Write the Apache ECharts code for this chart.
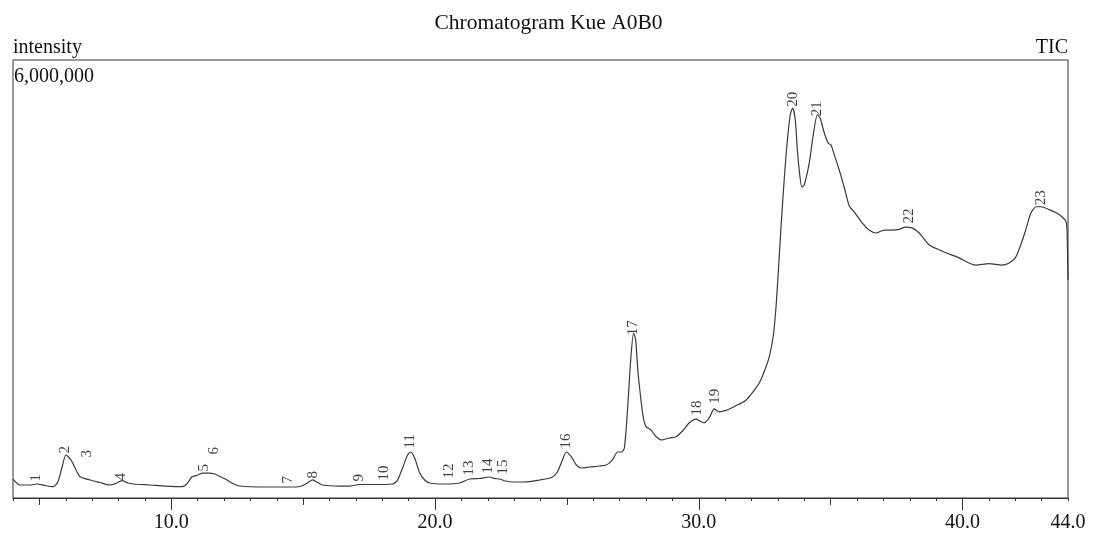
<!DOCTYPE html>
<html>
<head>
    <meta charset="utf-8"/>
    <title>Chromatogram Kue A0B0</title>
    <script src="https://cdn.jsdelivr.net/npm/echarts@6/dist/echarts.min.js"></script>
    <style>
        html, body { margin: 0; padding: 0; background: #fff; }
        #chart { width: 1097px; height: 540px; }
    </style>
</head>
<body>
<div id="chart"></div>
<script>
// retention time (min) and TIC intensity
var retTime = [4.00, 4.27, 4.64, 4.91, 5.21, 5.52, 5.70, 5.86, 6.01, 6.20, 6.39, 6.54, 6.92, 7.30, 7.67, 7.90, 8.13, 8.36, 8.55, 9.19,
    9.76, 10.40, 10.59, 10.78, 11.01, 11.20, 11.42, 11.65, 11.88, 12.11, 12.33, 12.60, 13.62, 14.49, 14.87, 15.10, 15.36, 15.55, 15.74, 16.39,
    16.77, 17.14, 17.71, 18.39, 18.58, 18.77, 18.96, 19.08, 19.23, 19.42, 19.61, 19.80, 20.36, 20.93, 21.31, 21.69, 22.07, 22.26, 22.45, 22.67,
    22.94, 23.39, 23.96, 24.42, 24.64, 24.83, 24.98, 25.17, 25.36, 25.55, 25.86, 26.23, 26.50, 26.73, 26.92, 27.07, 27.18, 27.30, 27.42, 27.53,
    27.61, 27.69, 27.81, 27.90, 28.00, 28.19, 28.36, 28.57, 28.89, 29.14, 29.42, 29.64, 29.90, 30.06, 30.21, 30.40, 30.59, 30.78, 31.03, 31.39,
    31.79, 32.11, 32.30, 32.48, 32.67, 32.83, 32.93, 33.02, 33.12, 33.24, 33.36, 33.47, 33.56, 33.66, 33.73, 33.81, 33.91, 34.00, 34.19, 34.34,
    34.50, 34.60, 34.76, 34.91, 35.01, 35.14, 35.33, 35.52, 35.71, 35.89, 36.20, 36.46, 36.72, 37.03, 37.33, 37.60, 37.83, 38.09, 38.36, 38.73,
    39.11, 39.37, 39.87, 40.50, 41.01, 41.50, 41.77, 42.00, 42.14, 42.37, 42.59, 42.79, 42.97, 43.29, 43.59, 43.78, 43.92, 43.96, 44.00];
var intensity = [260000, 178000, 178000, 192000, 171000, 155000, 219000, 425000, 589000, 520000, 384000, 292000, 247000, 212000, 178000, 199000, 237000, 205000, 192000, 178000,
    164000, 155000, 192000, 288000, 315000, 342000, 342000, 329000, 288000, 247000, 199000, 164000, 151000, 151000, 158000, 192000, 247000, 212000, 178000, 164000,
    164000, 185000, 185000, 192000, 247000, 411000, 589000, 630000, 548000, 342000, 247000, 205000, 192000, 205000, 260000, 267000, 288000, 267000, 260000, 233000,
    219000, 219000, 247000, 281000, 356000, 521000, 630000, 562000, 452000, 411000, 425000, 438000, 452000, 521000, 630000, 630000, 685000, 1210000, 1890000, 2260000,
    2160000, 1750000, 1340000, 1100000, 977000, 932000, 849000, 795000, 822000, 840000, 932000, 1030000, 1080000, 1050000, 1030000, 1100000, 1220000, 1180000, 1200000, 1260000,
    1340000, 1480000, 1580000, 1730000, 1930000, 2230000, 2620000, 3120000, 3720000, 4360000, 4900000, 5250000, 5340000, 5180000, 4810000, 4490000, 4260000, 4290000, 4590000, 4970000,
    5250000, 5210000, 5000000, 4860000, 4840000, 4700000, 4490000, 4250000, 4000000, 3920000, 3770000, 3670000, 3630000, 3670000, 3670000, 3680000, 3710000, 3700000, 3630000, 3470000,
    3400000, 3360000, 3290000, 3190000, 3210000, 3190000, 3220000, 3290000, 3400000, 3640000, 3900000, 3990000, 3990000, 3950000, 3900000, 3850000, 3790000, 3700000, 2990000];

// peak numbers with their retention time and the height the number sits at
var peakNo = [1, 2, 3, 4, 5, 6, 7, 8, 9, 10, 11, 12, 13, 14, 15, 16, 17, 18, 19, 20, 21, 22, 23];
var peakTime = [4.91, 6.01, 6.84, 8.13, 11.27, 11.65, 14.45, 15.40, 17.14, 18.09, 19.08, 20.55, 21.31, 22.03, 22.60, 24.98, 27.52, 29.95, 30.63, 33.58, 34.49, 37.98, 42.98];
var peakHeight = [205000, 589000, 534000, 219000, 342000, 575000, 178000, 247000, 205000, 219000, 658000, 247000, 288000, 315000, 301000, 658000, 2210000, 1110000, 1270000, 5340000, 5210000, 3740000, 3990000];

var xLabels = [10, 20, 30, 40, 44];
var xMidTicks = [5, 15, 25, 35];
var xLongTicks = [10, 20, 30, 40];

var serif = "'Liberation Serif', 'DejaVu Serif', serif";

var trace = [];
for (var i = 0; i < retTime.length; i++) {
    trace.push([retTime[i], intensity[i]]);
}
var peaks = [];
for (var j = 0; j < peakNo.length; j++) {
    peaks.push([peakTime[j], peakHeight[j], peakNo[j]]);
}

function tickAxis(values, len) {
    return {
        type: 'value', min: 4, max: 44, position: 'bottom',
        axisLine: { show: false },
        axisTick: { show: true, customValues: values, length: len, lineStyle: { color: '#333', width: 1 } },
        axisLabel: { show: false },
        splitLine: { show: false }
    };
}

var chart = echarts.init(document.getElementById('chart'));
chart.setOption({
    animation: false,
    backgroundColor: '#fff',
    title: {
        text: 'Chromatogram Kue A0B0',
        left: 'center', top: 7,
        textStyle: { fontFamily: serif, fontSize: 21.5, fontWeight: 'normal', color: '#111' }
    },
    graphic: [
        { type: 'text', left: 13, top: 38, style: { text: 'intensity', font: '20px ' + serif, fill: '#111' } },
        { type: 'text', right: 29, top: 38, style: { text: 'TIC', font: '20px ' + serif, fill: '#111' } },
        { type: 'text', left: 14, top: 67, style: { text: '6,000,000', font: '20px ' + serif, fill: '#111' } }
    ],
    grid: { left: 13, right: 29, top: 60, bottom: 42, show: true, borderColor: '#333', borderWidth: 1 },
    xAxis: [
        {
            type: 'value', min: 4, max: 44, interval: 1, position: 'bottom',
            axisLine: { show: true, lineStyle: { color: '#333', width: 1 } },
            axisTick: { show: true, length: 3, lineStyle: { color: '#333', width: 1 } },
            axisLabel: {
                customValues: xLabels, margin: 15,
                fontFamily: serif, fontSize: 20, color: '#111',
                formatter: function (v) { return v.toFixed(1); }
            },
            splitLine: { show: false }
        },
        tickAxis(xMidTicks, 7),
        tickAxis(xLongTicks, 12)
    ],
    yAxis: {
        type: 'value', min: 0, max: 6000000,
        axisLine: { show: false }, axisTick: { show: false },
        axisLabel: { show: false }, splitLine: { show: false }
    },
    series: [
        {
            type: 'line', data: trace, xAxisIndex: 0,
            showSymbol: false, smooth: 0.25,
            lineStyle: { color: '#3a3a3a', width: 1.2 }, silent: true
        },
        {
            type: 'scatter', data: peaks, xAxisIndex: 0,
            symbolSize: 1, itemStyle: { color: 'transparent' }, silent: true,
            label: {
                show: true, position: [0, -1], rotate: 90,
                align: 'left', verticalAlign: 'middle',
                fontFamily: serif, fontSize: 15, color: '#111',
                formatter: function (p) { return p.value[2]; }
            }
        }
    ]
});
</script>
</body>
</html>
